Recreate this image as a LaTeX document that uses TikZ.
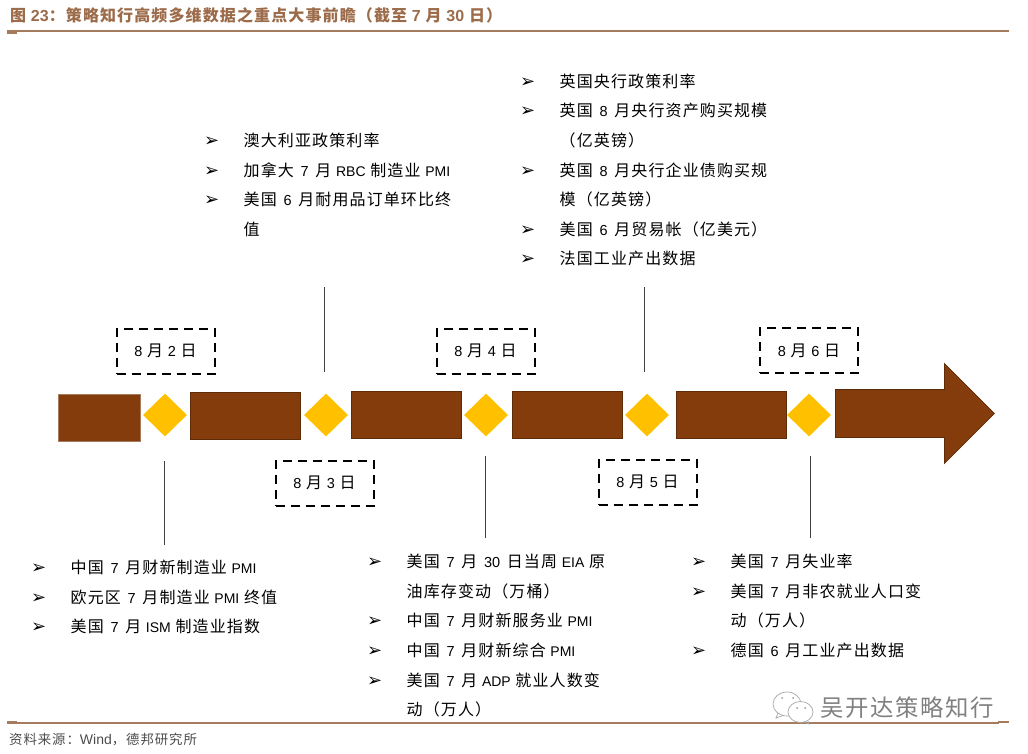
\documentclass[tikz,border=0pt]{standalone}
\usepackage{fontspec}
\setmainfont{Noto Sans CJK SC}[LetterSpace=7]
\newfontfamily\latfont{Liberation Sans}
\newfontfamily\bulfont{DejaVu Sans}
\usepackage{tikz}
\usetikzlibrary{arrows.meta,positioning,shapes.geometric,shapes.arrows}

\definecolor{barbrown}{HTML}{843C0C}
\definecolor{bardark}{HTML}{5F2C09}
\definecolor{markgold}{HTML}{FFC000}
\definecolor{rulebrown}{HTML}{A67C5E}
\definecolor{titlebrown}{HTML}{9C6B4A}

\newcommand{\lat}[1]{{\latfont\fontsize{14}{29.6}\selectfont #1}}
\newcommand{\dnum}[1]{{\latfont\fontsize{14.5}{29.6}\selectfont #1}}
\newcommand{\lnum}[1]{\hspace{2pt}\dnum{#1}\hspace{2pt}}
\newcommand{\itm}[1]{\makebox[39.5pt][l]{\bulfont\fontsize{18}{18}\selectfont ➢}#1}
\newcommand{\cont}[1]{\hspace*{39.5pt}#1}

\begin{document}
\begin{tikzpicture}[
      x=1pt, y=-1pt,
      font=\fontsize{16}{29.6}\selectfont,
      bar/.style={draw=bardark, line width=0.8pt, fill=barbrown, inner sep=0pt,
        minimum width=110pt, minimum height=47pt},
      evmark/.style={diamond, fill=markgold, inner sep=0pt,
        minimum width=44pt, minimum height=43pt},
      datebox/.style={draw=black, dashed, line width=2pt, dash pattern=on 9pt off 6pt,
        align=center, inner sep=0pt, minimum width=98pt, minimum height=45pt},
      evlist/.style={anchor=north west, align=left, inner sep=0pt},
      lead/.style={draw=black!75, line width=0.8pt},
      rulebar/.style={fill=rulebrown, inner sep=0pt, anchor=north west},
    ]
    \useasboundingbox (0,0) rectangle (1028,754);

    % title and rules
    \node[anchor=west, inner sep=0pt, text=titlebrown, font=\fontsize{16}{18}\selectfont\bfseries] (title) at (10,15)
      {图 {\latfont\bfseries 23}：策略知行高频多维数据之重点大事前瞻（截至 {\latfont\bfseries 7} 月 {\latfont\bfseries 30} 日）};
    \node[rulebar, minimum width=1002pt, minimum height=2pt] (ruletop) at (7,30) {};
    \node[rulebar, minimum width=10pt, minimum height=2pt] (tabtop) at (7,32) {};
    \node[rulebar, minimum width=992pt, minimum height=2pt] (rulefoot) at (7,722) {};
    \node[rulebar, minimum width=10pt, minimum height=1.5pt] (tabfoot) at (7,720.5) {};
    \node[rulebar, minimum width=11pt, minimum height=2pt] (tabright) at (998,721) {};
    \node[anchor=west, inner sep=0pt, text=black!70, font=\fontsize{13.4}{15}\selectfont] (source) at (9,740)
      {资料来源：\lat{Wind}，德邦研究所};

    % timeline
    \node[bar, minimum width=82pt, minimum height=47pt, draw=rulebrown] (barA) at (99,418) {};
    \node[bar] (barB) at (245,416) {};
    \node[bar] (barC) at (406,415) {};
    \node[bar] (barD) at (567,415) {};
    \node[bar] (barE) at (731,414.5) {};
    \node[single arrow, draw=bardark, line width=0.8pt, fill=barbrown, inner xsep=0pt, inner ysep=23.5pt,
      minimum height=159pt, minimum width=99pt,
      single arrow head extend=26pt, anchor=west] (barF) at (835,413.5) {};
    \node[evmark] (markA) at (165,415) {};
    \node[evmark] (markB) at (326,415) {};
    \node[evmark] (markC) at (486,415) {};
    \node[evmark] (markD) at (647,415) {};
    \node[evmark] (markE) at (809,415) {};

    % date boxes
    \node[datebox] (dateA) at (165.5,351) {\dnum{8} 月 \dnum{2} 日};
    \node[datebox] (dateB) at (324.5,483) {\dnum{8} 月 \dnum{3} 日};
    \node[datebox] (dateC) at (485.5,351) {\dnum{8} 月 \dnum{4} 日};
    \node[datebox] (dateD) at (647.5,482) {\dnum{8} 月 \dnum{5} 日};
    \node[datebox] (dateE) at (809,350.5) {\dnum{8} 月 \dnum{6} 日};

    % event lists
    \node[evlist] (listA) at (31,560) {\itm{中国 \lnum{7} 月财新制造业 \lat{PMI}}\\
      \itm{欧元区 \lnum{7} 月制造业 \lat{PMI} 终值}\\
      \itm{美国 \lnum{7} 月 \lat{ISM} 制造业指数}};
    \node[evlist] (listB) at (204,133) {\itm{澳大利亚政策利率}\\
      \itm{加拿大 \lnum{7} 月 \lat{RBC} 制造业 \lat{PMI}}\\
      \itm{美国 \lnum{6} 月耐用品订单环比终}\\
      \cont{值}};
    \node[evlist] (listC) at (367,554) {\itm{美国 \lnum{7} 月 \lnum{30} 日当周 \lat{EIA} 原}\\
      \cont{油库存变动（万桶）}\\
      \itm{中国 \lnum{7} 月财新服务业 \lat{PMI}}\\
      \itm{中国 \lnum{7} 月财新综合 \lat{PMI}}\\
      \itm{美国 \lnum{7} 月 \lat{ADP} 就业人数变}\\
      \cont{动（万人）}};
    \node[evlist] (listD) at (520,73.5) {\itm{英国央行政策利率}\\
      \itm{英国 \lnum{8} 月央行资产购买规模}\\
      \cont{（亿英镑）}\\
      \itm{英国 \lnum{8} 月央行企业债购买规}\\
      \cont{模（亿英镑）}\\
      \itm{美国 \lnum{6} 月贸易帐（亿美元）}\\
      \itm{法国工业产出数据}};
    \node[evlist] (listE) at (691,554) {\itm{美国 \lnum{7} 月失业率}\\
      \itm{美国 \lnum{7} 月非农就业人口变}\\
      \cont{动（万人）}\\
      \itm{德国 \lnum{6} 月工业产出数据}};

    % leader lines, free ends sit by the lists
    \coordinate (leadA) at (164,545);
    \coordinate (leadB) at (324,287);
    \coordinate (leadC) at (485,538);
    \coordinate (leadD) at (644,287);
    \coordinate (leadE) at (810,538);
    \draw[lead, shorten >=24pt] (leadA) -- (leadA|-markA.south);
    \draw[lead, shorten >=21pt] (leadB) -- (leadB|-markB.north);
    \draw[lead, shorten >=19pt] (leadC) -- (leadC|-markC.south);
    \draw[lead, shorten >=21pt] (leadD) -- (leadD|-markD.north);
    \draw[lead, shorten >=19pt] (leadE) -- (leadE|-markE.south);

    % watermark
    \node[anchor=west, inner sep=0pt, text=black!50, font=\fontsize{23.4}{27}\selectfont] (wmark) at (820,708) {吴开达策略知行};
    \draw[black!35, fill=white, line width=0.7pt] (787,704) ellipse (14pt and 12pt);
    \draw[black!35, line width=0.7pt] (778,713) -- (776,718) -- (783,715.5);
    \draw[black!35, fill=white, line width=0.7pt] (800.5,712) ellipse (12.5pt and 10.5pt);
    \draw[black!35, line width=0.7pt] (804,722) -- (809,724) -- (808,721);
    \fill[black!40] (782,698) circle (1pt) (793,698) circle (1pt) (797,708) circle (1pt) (805,708) circle (1pt);
\end{tikzpicture}
\end{document}
